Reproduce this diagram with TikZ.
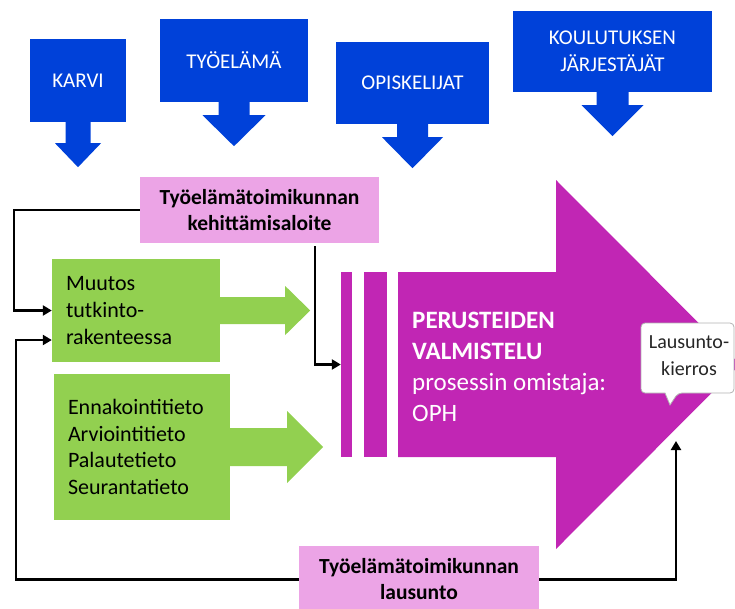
\documentclass[tikz,border=0pt]{standalone}
\usepackage{fontspec}
\setmainfont{Carlito}
\usepackage{tikz}
\usetikzlibrary{arrows.meta}
\usetikzlibrary{calc}

\definecolor{actorblue}{RGB}{0,65,217}
\definecolor{ophmagenta}{RGB}{193,38,180}
\definecolor{tmkpink}{RGB}{236,164,230}
\definecolor{tietogreen}{RGB}{146,208,80}

\begin{document}
\begin{tikzpicture}[x=1pt, y=-1pt,
    actor/.style = {fill=actorblue, text=white, inner sep=0pt, align=center, font=\fontsize{21}{27}\selectfont},
    tmk/.style = {fill=tmkpink, inner sep=0pt, align=center, font=\fontsize{21.5}{26}\selectfont\bfseries},
    tieto/.style = {fill=tietogreen, inner xsep=14pt, inner ysep=0pt, align=left, font=\fontsize{22}{26.8}\selectfont},
    bar/.style = {fill=ophmagenta, inner sep=0pt, minimum height=185pt},
    conn/.style = {line width=2.2pt, -{Triangle[length=9pt, width=10pt]}}]

    \useasboundingbox (0,0) rectangle (735,608);

    % who gives input
    \node [actor, minimum width=96pt, minimum height=83pt] (karvi) at (78, 80.5) {KARVI};
    \node [actor, minimum width=148pt, minimum height=83pt] (tyoelama) at (234, 60.5) {TYÖELÄMÄ};
    \node [actor, minimum width=153pt, minimum height=82pt] (opiskelijat) at (412.5, 83) {OPISKELIJAT};
    \node [actor, minimum width=199pt, minimum height=81pt] (koulutuksen) at (612.5, 51.5) {KOULUTUKSEN\\JÄRJESTÄJÄT};

    \fill[actorblue] ($(karvi.south)+(-12.5,-1)$) -- ++(0,22) -- ++(-10.5,0) -- ($(karvi.south)+(0,45)$) -- ($(karvi.south)+(23,21)$) -- ++(-10.5,0) -- ++(0,-22) -- cycle;
    \fill[actorblue] ($(tyoelama.south)+(-15.5,-1)$) -- ++(0,14) -- ++(-16,0) -- ($(tyoelama.south)+(0,44)$) -- ($(tyoelama.south)+(31.5,13)$) -- ++(-16,0) -- ++(0,-14) -- cycle;
    \fill[actorblue] ($(opiskelijat.south)+(-15.5,-1)$) -- ++(0,14) -- ++(-15,0) -- ($(opiskelijat.south)+(0,44)$) -- ($(opiskelijat.south)+(30.5,13)$) -- ++(-15,0) -- ++(0,-14) -- cycle;
    \fill[actorblue] ($(koulutuksen.south)+(-16,-1)$) -- ++(0,14) -- ++(-15,0) -- ($(koulutuksen.south)+(0,44)$) -- ($(koulutuksen.south)+(31,13)$) -- ++(-15,0) -- ++(0,-14) -- cycle;

    % big process arrow
    \fill[ophmagenta] (398,272) -- (556,272) -- (556,180) -- (740,364.5) -- (556,549) -- (556,457) -- (398,457) -- cycle;
    \node [bar, minimum width=11pt] (bar1) at (346.5, 364.5) {};
    \node [bar, minimum width=23pt] (bar2) at (375.5, 364.5) {};
    \node [anchor=west, inner sep=0pt, text=white, align=left, font=\fontsize{25}{31}\selectfont] (valmistelu) at (412, 366.5)
        {\textbf{PERUSTEIDEN}\\\textbf{VALMISTELU}\\prosessin omistaja:\\OPH};

    % information boxes
    \node [tieto, text width=140pt, minimum height=103pt] (muutos) at (136, 310.5) {Muutos\\tutkinto-\\rakenteessa};
    \node [tieto, text width=148pt, minimum height=146pt] (tieto) at (142, 447) {Ennakointitieto\\Arviointitieto\\Palautetieto\\Seurantatieto};
    \fill[tietogreen] ($(muutos.east)+(-1,-13.5)$) -- ++(66,0) -- ++(0,-11) -- ($(muutos.east)+(90,0)$) -- ($(muutos.east)+(65,24.5)$) -- ++(0,-11) -- ++(-66,0) -- cycle;
    \fill[tietogreen] ($(tieto.east)+(-1,-19)$) -- ++(58,0) -- ++(0,-17) -- ($(tieto.east)+(93,0)$) -- ($(tieto.east)+(57,36)$) -- ++(0,-17) -- ++(-58,0) -- cycle;

    \node [tmk, minimum width=239pt, minimum height=66pt] (aloite) at (259.5, 210) {Työelämätoimikunnan\\kehittämisaloite};
    \node [tmk, minimum width=240pt, minimum height=67pt] (lausunto) at (419, 579.5) {Työelämätoimikunnan\\lausunto};

    % comment round
    \draw[gray!60, line width=0.8pt, fill=white, rounded corners=4pt] (641,323) -- (734,323) -- (734,393) -- (678,393) [sharp corners] -- (670,405) -- (665,393) [rounded corners=4pt] -- (641,393) -- cycle;
    \node [inner sep=0pt, align=center, text=black!85, font=\fontsize{20}{27}\selectfont] (kierros) at (689, 356) {Lausunto-\\kierros};

    \coordinate (aloiteout) at (315, 246);
    \coordinate (kierrosin) at (676, 441);

    \draw[conn] (aloite.west) -- ++(-126,0) |- (muutos.west);
    \draw[conn] (aloiteout) |- (bar1.west);
    \draw[conn] (lausunto.west) -- ++(-283,0) |- ($(muutos.west)+(0,29.5)$);
    \draw[conn] (lausunto.east) -| (kierrosin);

\end{tikzpicture}
\end{document}
